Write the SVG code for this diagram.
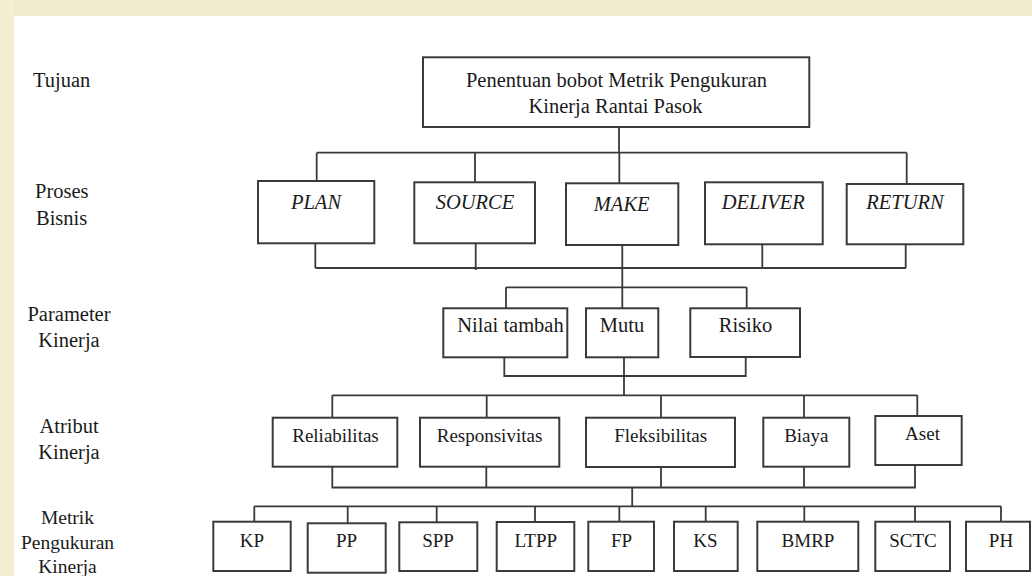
<svg xmlns="http://www.w3.org/2000/svg" width="1032" height="576" viewBox="0 0 1032 576">
<rect x="0" y="0" width="1032" height="576" fill="#ffffff"/>
<rect x="0" y="0" width="1032" height="16" fill="#f1eccd"/>
<rect x="0" y="0" width="14" height="576" fill="#f4efd2"/>

<g id="labels" fill="#1a1a1a">
<text font-family="Liberation Serif" font-size="20.5" x="33" y="87">Tujuan</text>
<text font-family="Liberation Serif" font-size="20.5" x="35" y="198">Proses</text>
<text font-family="Liberation Serif" font-size="20.5" x="36" y="225">Bisnis</text>
<text font-family="Liberation Serif" font-size="20.5" text-anchor="middle" x="69" y="320.5">Parameter</text>
<text font-family="Liberation Serif" font-size="20.5" text-anchor="middle" x="69" y="347">Kinerja</text>
<text font-family="Liberation Serif" font-size="20.5" text-anchor="middle" x="69" y="432.5">Atribut</text>
<text font-family="Liberation Serif" font-size="20.5" text-anchor="middle" x="69" y="459">Kinerja</text>
<text font-family="Liberation Serif" font-size="19.5" text-anchor="middle" x="67.5" y="524">Metrik</text>
<text font-family="Liberation Serif" font-size="19.5" text-anchor="middle" x="67.5" y="549">Pengukuran</text>
<text font-family="Liberation Serif" font-size="19.5" text-anchor="middle" x="67.5" y="573">Kinerja</text>
</g>

<g id="connectors" fill="none" stroke="#3a3a3a" stroke-width="1.8">
<path d="M619 127V152.7M316.7 152.7H906.7M316.7 152.7V181M475 152.7V182.3M619.3 152.7V183.3M906.7 152.7V184"/>
<path d="M315.3 243.3V268M315.3 268H906M475.7 243.3V270M762.3 244.3V268M905.7 244.3V268M622.3 245V308.3"/>
<path d="M506 287.3H746.7M506 287.3V308.3M746.7 287.3V308.3"/>
<path d="M504.3 357.3V376H745.7V357M624 357.3V395.3"/>
<path d="M332.3 395.3H917.5M332.3 395.3V417.7M486.7 395.3V417.7M661 395.3V417.7M804 395.3V417.7M917.3 395.3V416"/>
<path d="M332.3 466.7V487.5H915V465M486.3 466.7V487.5M661 467V487.5M804 466.7V487.5M632.2 487.5V506.3"/>
<path d="M254.3 506.3H1001M254.3 506.3V521.7M347.7 506.3V523.3M436.7 506.3V522.3M535 506.3V522M619.3 506.3V521.7M705.7 506.3V521.7M804.3 506.3V521.7M915 506.3V521.7M1001 506.3V521.7"/>
</g>

<g id="boxes" fill="#ffffff" stroke="#3a3a3a" stroke-width="2">
<rect id="b-goal" x="423" y="57.3" width="386.3" height="69.7"/>
<rect id="b-plan" x="258" y="181" width="116.3" height="62.3"/>
<rect id="b-source" x="414.3" y="182.3" width="120.7" height="61"/>
<rect id="b-make" x="566" y="183.3" width="112.3" height="61.7"/>
<rect id="b-deliver" x="705" y="182.3" width="117.7" height="62"/>
<rect id="b-return" x="846.7" y="184" width="116.6" height="60.3"/>
<rect id="b-nilai" x="443.3" y="308.3" width="124" height="49"/>
<rect id="b-mutu" x="586" y="308.3" width="72.3" height="49"/>
<rect id="b-risiko" x="690.3" y="308.3" width="109.7" height="48.7"/>
<rect id="b-reliabilitas" x="272.7" y="417.7" width="124.6" height="49"/>
<rect id="b-responsivitas" x="420" y="417.7" width="139.3" height="49"/>
<rect id="b-fleksibilitas" x="586" y="417.7" width="149" height="49.3"/>
<rect id="b-biaya" x="763.3" y="417.7" width="86" height="49"/>
<rect id="b-aset" x="875.3" y="416" width="86.4" height="49"/>
<rect id="b-kp" x="213.3" y="521.7" width="77.4" height="49.3"/>
<rect id="b-pp" x="307.7" y="523.3" width="78" height="49.4"/>
<rect id="b-spp" x="399.3" y="522.3" width="78" height="48.7"/>
<rect id="b-ltpp" x="496.7" y="522" width="77.6" height="49"/>
<rect id="b-fp" x="588.3" y="521.7" width="65.7" height="49.3"/>
<rect id="b-ks" x="674" y="521.7" width="63.7" height="49.3"/>
<rect id="b-bmrp" x="757.3" y="521.7" width="101" height="49.3"/>
<rect id="b-sctc" x="875.3" y="521.7" width="74.7" height="49.3"/>
<rect id="b-ph" x="966" y="521.7" width="64" height="49.3"/>
</g>

<g id="node-texts" fill="#1a1a1a" text-anchor="middle">
<text font-family="Liberation Serif" font-size="20.5" x="616.5" y="87">Penentuan bobot Metrik Pengukuran</text>
<text font-family="Liberation Serif" font-size="20.5" x="615.5" y="113">Kinerja Rantai Pasok</text>
<text font-family="Liberation Serif" font-size="20.5" font-style="italic" x="316" y="208.5">PLAN</text>
<text font-family="Liberation Serif" font-size="20.5" font-style="italic" x="475" y="208.5">SOURCE</text>
<text font-family="Liberation Serif" font-size="20.5" font-style="italic" x="621.7" y="210.5">MAKE</text>
<text font-family="Liberation Serif" font-size="20.5" font-style="italic" x="763.3" y="209">DELIVER</text>
<text font-family="Liberation Serif" font-size="20.5" font-style="italic" x="905" y="208.5">RETURN</text>
<text font-family="Liberation Serif" font-size="20.5" x="510.5" y="331.7">Nilai tambah</text>
<text font-family="Liberation Serif" font-size="20.5" x="622" y="331.7">Mutu</text>
<text font-family="Liberation Serif" font-size="20.5" x="745.5" y="331.7">Risiko</text>
<text font-family="Liberation Serif" font-size="19" x="335.5" y="441.7">Reliabilitas</text>
<text font-family="Liberation Serif" font-size="19" x="489.5" y="441.7">Responsivitas</text>
<text font-family="Liberation Serif" font-size="19" x="660.7" y="441.7">Fleksibilitas</text>
<text font-family="Liberation Serif" font-size="19" x="806.3" y="441.7">Biaya</text>
<text font-family="Liberation Serif" font-size="19" x="922.5" y="440">Aset</text>
<text font-family="Liberation Serif" font-size="19" x="252" y="546.5">KP</text>
<text font-family="Liberation Serif" font-size="19" x="346.5" y="546.5">PP</text>
<text font-family="Liberation Serif" font-size="19" x="438" y="546.5">SPP</text>
<text font-family="Liberation Serif" font-size="19" x="535.8" y="546.5">LTPP</text>
<text font-family="Liberation Serif" font-size="19" x="621.5" y="546.5">FP</text>
<text font-family="Liberation Serif" font-size="19" x="705.5" y="546.5">KS</text>
<text font-family="Liberation Serif" font-size="19" x="808" y="546.5">BMRP</text>
<text font-family="Liberation Serif" font-size="19" x="913" y="546.5">SCTC</text>
<text font-family="Liberation Serif" font-size="19" x="1001" y="546.5">PH</text>
</g>
</svg>
